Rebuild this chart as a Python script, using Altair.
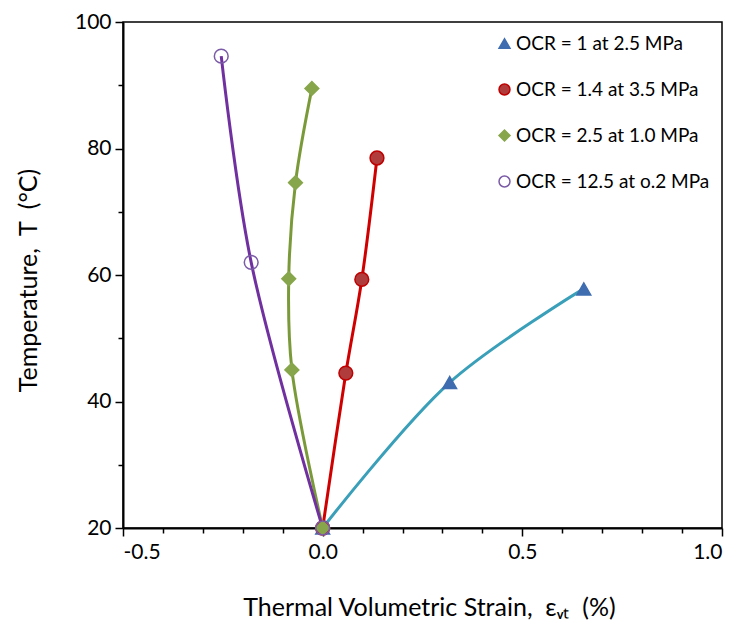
import altair as alt
import pandas as pd

# ---- data ----
series = ["OCR = 1 at 2.5 MPa", "OCR = 1.4 at 3.5 MPa",
          "OCR = 2.5 at 1.0 MPa", "OCR = 12.5 at o.2 MPa"]

strain_ocr1 = [0.0, 0.318, 0.654]
temp_ocr1 = [20.0, 43.0, 57.8]

strain_ocr14 = [0.0, 0.058, 0.098, 0.136]
temp_ocr14 = [20.0, 44.5, 59.3, 78.5]

strain_ocr25 = [0.0, -0.077, -0.085, -0.068, -0.027]
temp_ocr25 = [20.0, 45.0, 59.4, 74.6, 89.5]

strain_ocr125 = [0.0, -0.179, -0.254]
temp_ocr125 = [20.0, 62.0, 94.6]

x_ticks = [-0.5, -0.4, -0.3, -0.2, -0.1, 0.0, 0.1, 0.2, 0.3, 0.4,
           0.5, 0.6, 0.7, 0.8, 0.9, 1.0]
y_ticks = [20, 30, 40, 50, 60, 70, 80, 90, 100]

# ---- styles ----
line_colors = ["#3A9FB8", "#D00000", "#7A9A3A", "#7030A0"]
marker_fill = ["#3F6DB0", "#B03C3C", "#87A64B", "transparent"]
marker_stroke = ["#3F6DB0", "#C00000", "#87A64B", "#7B5BA6"]
marker_shape = ["triangle-up", "circle", "diamond", "circle"]

FONT = "Lato"
NB = "\u00A0"

rows = []
for s, xs, ts in zip(series,
                     [strain_ocr1, strain_ocr14, strain_ocr25, strain_ocr125],
                     [temp_ocr1, temp_ocr14, temp_ocr25, temp_ocr125]):
    for i, (xv, tv) in enumerate(zip(xs, ts)):
        rows.append({"series": s, "strain": xv, "temp": tv, "idx": i})
df = pd.DataFrame(rows)

x_major = "abs(datum.value*2 - round(datum.value*2)) < 0.001"
x_enc = alt.X("strain:Q",
              scale=alt.Scale(domain=[-0.5, 1.0], nice=False, zero=False),
              axis=alt.Axis(values=x_ticks,
                            labelExpr=f"{x_major} ? (datum.value < 0 ? '-' + format(-datum.value, '.1f') : format(datum.value, '.1f')) : ''",
                            title=f"Thermal Volumetric Strain,{NB}{NB}εᵥₜ{NB}{NB}(%)",
                            titleX=306, titleY=79, titleBaseline="middle",
                            titleAlign="center",
                            tickSize={"condition": {"test": x_major, "value": 8}, "value": 5},
                            labelPadding=5, grid=False))
y_enc = alt.Y("temp:Q",
              scale=alt.Scale(domain=[20, 100], nice=False, zero=False),
              axis=alt.Axis(values=y_ticks,
                            labelExpr="datum.value % 20 == 0 ? format(datum.value, 'd') : ''",
                            title=f"Temperature,{NB}{NB}T{NB}{NB}(°C)",
                            titleX=-95, titleY=258, titleBaseline="middle",
                            titleAlign="center", titleAngle=-90,
                            tickSize={"condition": {"test": "datum.value % 20 == 0", "value": 8}, "value": 5},
                            labelPadding=4, grid=False))

base = alt.Chart(df)

lines = []
for s, c in zip(series, line_colors):
    lines.append(
        base.transform_filter(alt.datum.series == s)
        .mark_line(color=c, strokeWidth=3, interpolate="catmull-rom")
        .encode(x=x_enc, y=y_enc, order="idx:Q")
    )

legend = alt.Legend(title=None, orient="none", legendX=372, legendY=12,
                    labelFont=FONT, labelFontSize=19, labelColor="black",
                    labelLimit=0, rowPadding=26, symbolSize=120, labelOffset=2,
                    symbolStrokeWidth=1.5)

points = base.mark_point(filled=True, size=190, strokeWidth=1.5, opacity=1).encode(
    x=x_enc, y=y_enc,
    shape=alt.Shape("series:N", scale=alt.Scale(domain=series, range=marker_shape), legend=legend),
    fill=alt.Fill("series:N", scale=alt.Scale(domain=series, range=marker_fill), legend=legend),
    stroke=alt.Stroke("series:N", scale=alt.Scale(domain=series, range=marker_stroke), legend=legend),
)

chart = alt.layer(*lines, points).properties(
    width=599, height=506,
    autosize=alt.AutoSizeParams(type="none"),
    padding={"left": 115, "top": 14, "right": 11, "bottom": 92},
).configure_view(
    stroke="black", strokeWidth=1.5
).configure_axis(
    labelFont=FONT, labelFontSize=21, labelColor="black",
    titleFont=FONT, titleFontSize=25, titleFontWeight="normal", titleColor="black",
    domainColor="black", domainWidth=2, tickColor="black", tickWidth=1.5,
)

chart.save("out.html", embed_options={"renderer": "svg", "actions": False})
